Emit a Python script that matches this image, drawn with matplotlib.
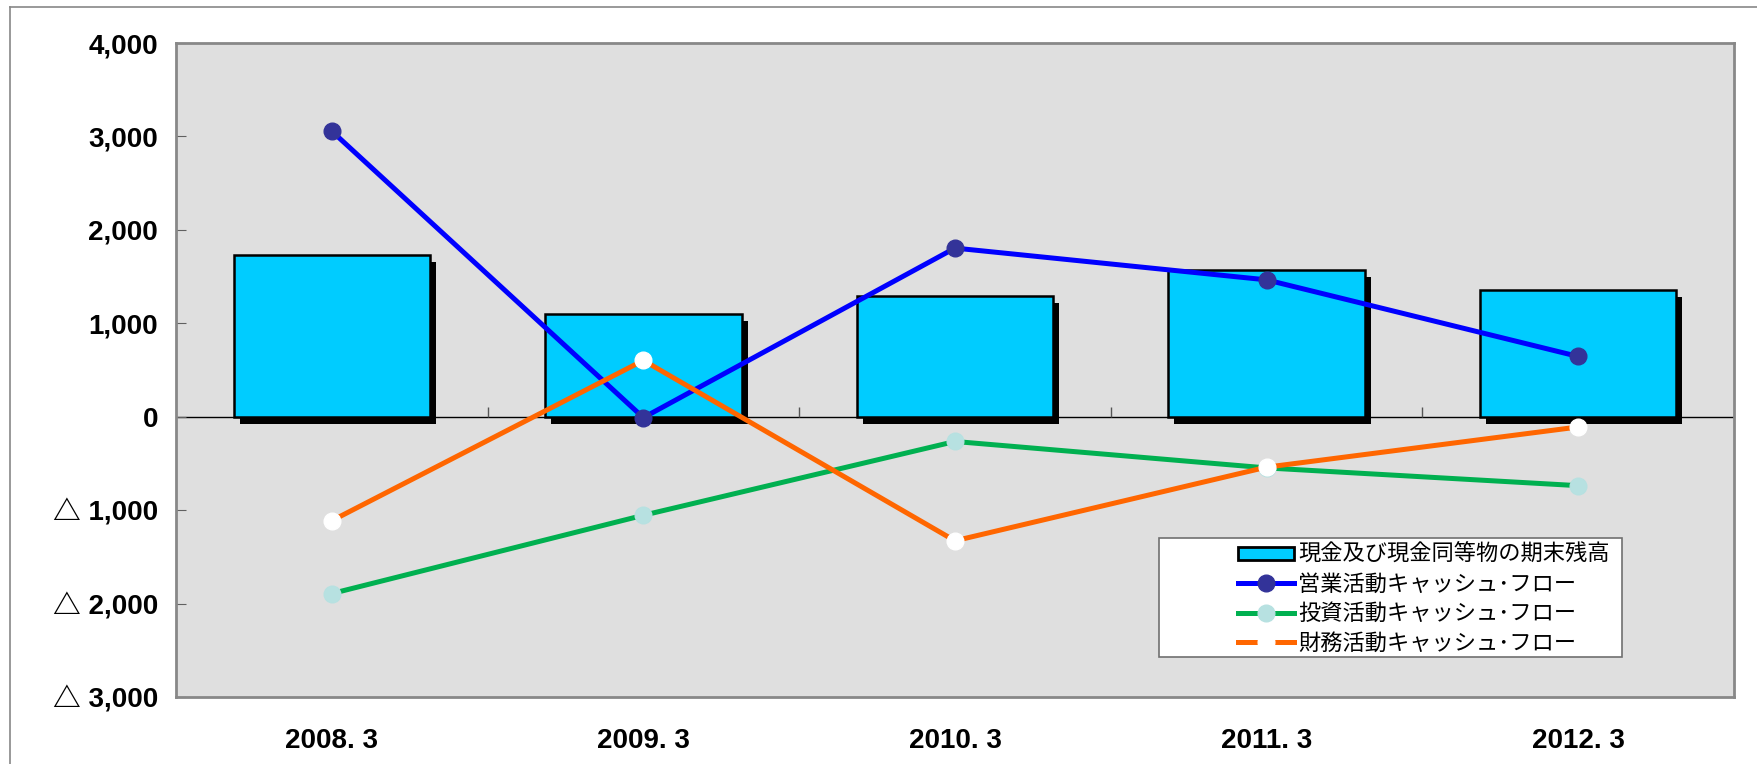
import matplotlib
matplotlib.use('Agg')
import matplotlib.pyplot as plt
from matplotlib.patches import Patch, Rectangle
from matplotlib.lines import Line2D
import matplotlib.transforms as mtransforms
from matplotlib import font_manager

periods = ['2008. 3', '2009. 3', '2010. 3', '2011. 3', '2012. 3']
cash_balance = [1730, 1095, 1295, 1568, 1355]
operating_cf = [3057, -10, 1805, 1465, 645]
investing_cf = [-1893, -1055, -265, -548, -738]
financing_cf = [-1113, 603, -1328, -540, -110]

label_balance = '現金及び現金同等物の期末残高'
label_operating = '営業活動キャッシュ･フロー'
label_investing = '投資活動キャッシュ･フロー'
label_financing = '財務活動キャッシュ･フロー'

names = {f.name for f in font_manager.fontManager.ttflist}
narrow = 'Liberation Sans Narrow' if 'Liberation Sans Narrow' in names else 'Liberation Sans'

fig = plt.figure(figsize=(17.58, 7.64), dpi=100)
ax = fig.add_axes([0.1001, 0.0877, 0.8862, 0.856])
ax.set_facecolor('#dfdfdf')

x = list(range(len(periods)))

# black drop shadow behind each bar
shadow_tf = ax.transData + mtransforms.ScaledTranslation(6 / 100, -7 / 100, fig.dpi_scale_trans)
ax.bar(x, cash_balance, width=0.63, color='black', transform=shadow_tf, zorder=2)
ax.bar(x, cash_balance, width=0.63, color='#00ccff', edgecolor='black', linewidth=1.8, zorder=3)

ax.axhline(0, color='black', linewidth=1, zorder=1.5)
ax.plot([i + 0.5 for i in range(len(periods) - 1)], [0] * (len(periods) - 1),
        linestyle='none', marker=2, markersize=7, color='#555555', mew=1, zorder=1.5)

ax.plot(x, operating_cf, color='#0000ff', linewidth=3.6, marker='o', markersize=12,
        markerfacecolor='#333399', markeredgecolor='#333399', zorder=5)
ax.plot(x, investing_cf, color='#00b050', linewidth=3.6, marker='o', markersize=12,
        markerfacecolor='#b7e1e1', markeredgecolor='#b7e1e1', zorder=5)
ax.plot(x, financing_cf, color='#ff6600', linewidth=3.6, marker='o', markersize=12,
        markerfacecolor='white', markeredgecolor='white', zorder=5)

ax.set_xlim(-0.5, len(periods) - 0.5)
ax.set_ylim(-3000, 4000)
ax.set_yticks(range(-3000, 4001, 1000))


def fmt(v):
    v = int(v)
    if v < 0:
        return '△ {:,}'.format(-v)
    return '{:,}'.format(v)


ax.set_yticklabels([fmt(v) for v in range(-3000, 4001, 1000)],
                   fontfamily=['Liberation Sans', 'Noto Sans CJK JP'], fontweight='bold', fontsize=20)
ax.tick_params(axis='y', direction='in', length=7, pad=13, color='#606060')
ax.set_xticks(x)
ax.set_xticklabels(periods, fontfamily=narrow, fontweight='bold', fontsize=20)
ax.tick_params(axis='x', length=0, pad=22)

for side in ax.spines.values():
    side.set_color('#888888')
    side.set_linewidth(2)

# legend with its own frame
handles = [
    Patch(facecolor='#00ccff', edgecolor='black', linewidth=2),
    Line2D([], [], color='#0000ff', linewidth=3.6, marker='o', markersize=12,
           markerfacecolor='#333399', markeredgecolor='#333399'),
    Line2D([], [], color='#00b050', linewidth=3.6, marker='o', markersize=12,
           markerfacecolor='#b7e1e1', markeredgecolor='#b7e1e1'),
    Line2D([], [], color='#ff6600', linewidth=3.6, marker='o', markersize=12,
           markerfacecolor='white', markeredgecolor='white'),
]
fig.patches.append(Rectangle((1159 / 1758, 1 - 657 / 764), 463 / 1758, 119 / 764,
                             transform=fig.transFigure, facecolor='white',
                             edgecolor='#707070', linewidth=1.2, zorder=6))
leg = fig.legend(handles, [label_balance, label_operating, label_investing, label_financing],
                 loc='upper left', bbox_to_anchor=(1227 / 1758, 1 - 532 / 764),
                 frameon=False, prop={'family': ['Noto Sans CJK JP', 'DejaVu Sans'], 'size': 16},
                 handlelength=2.5, handleheight=0.5, handletextpad=0.2, labelspacing=0.29,
                 borderpad=0.0)
leg.set_zorder(7)

# outer chart frame
fig.add_artist(Line2D([10 / 1758, 10 / 1758], [0, 1 - 7 / 764], color='#888888', linewidth=1.2))
fig.add_artist(Line2D([10 / 1758, 1], [1 - 7 / 764, 1 - 7 / 764], color='#888888', linewidth=1.2))

fig.savefig('out.png', dpi=100)
